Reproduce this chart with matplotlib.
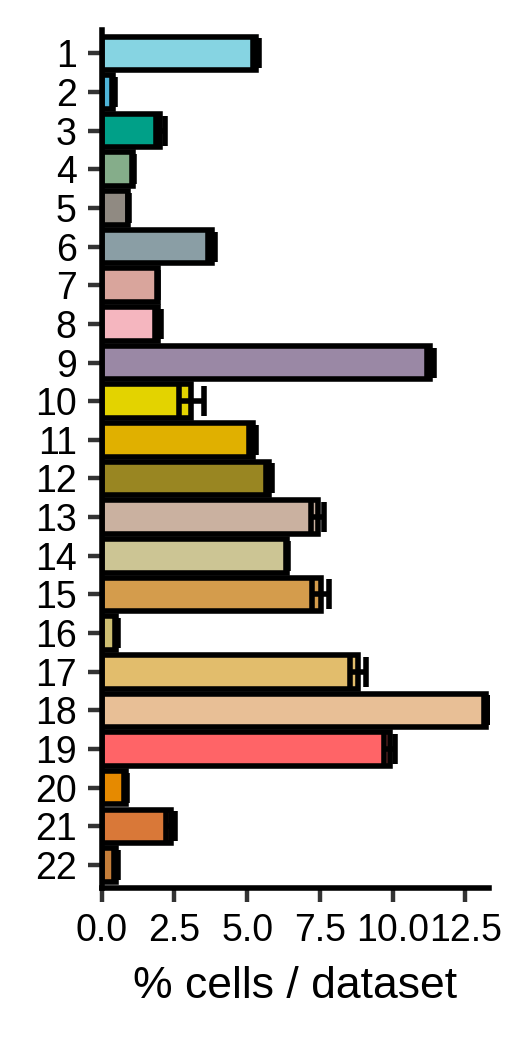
import matplotlib.pyplot as plt
import numpy as np

plt.rcParams['font.family'] = ['Liberation Sans', 'DejaVu Sans']

clusters = [str(i) for i in range(1, 23)]
pct = [5.30, 0.39, 2.01, 1.08, 0.92, 3.78, 1.92, 1.93, 11.30, 3.08, 5.20,
       5.76, 7.43, 6.36, 7.53, 0.50, 8.82, 13.22, 9.90, 0.83, 2.37, 0.50]
err = [0.10, 0.05, 0.15, 0.03, 0.03, 0.12, 0.03, 0.10, 0.12, 0.43, 0.12,
       0.10, 0.23, 0.03, 0.29, 0.05, 0.27, 0.06, 0.18, 0.05, 0.15, 0.07]
colors = ['#86D4E2', '#4FB4D8', '#00A088', '#85AD8A', '#908A82', '#8A9EA5',
          '#D9A59C', '#F5B6BF', '#9A88A5', '#E3D300', '#E0B000', '#998622',
          '#CAB1A0', '#CCC594', '#D49C4C', '#CDBE72', '#E2BD6C', '#E8BF96',
          '#FF6467', '#E68A00', '#D97838', '#C57E3A']

fig = plt.figure(figsize=(2.6, 5.2), dpi=200)
ax = fig.add_axes([0.1956, 0.146, 0.7444, 0.825])

y = np.arange(len(clusters))
ax.barh(y, pct, height=0.87, color=colors, edgecolor='black', linewidth=2.0, zorder=2)
ax.errorbar(pct, y, xerr=err, fmt='none', ecolor='black', elinewidth=2.0,
            capsize=5.4, capthick=2.0, zorder=3)

ax.set_ylim(21.6, -0.6)
ax.set_xlim(0, 13.31)
ax.set_yticks(y)
ax.set_yticklabels(clusters)
ax.set_xticks([0, 2.5, 5, 7.5, 10, 12.5])
ax.set_xticklabels(['0.0', '2.5', '5.0', '7.5', '10.0', '12.5'])
ax.set_xlabel('% cells / dataset', fontsize=16, labelpad=6)

for s in ['top', 'right']:
    ax.spines[s].set_visible(False)
for s in ['left', 'bottom']:
    ax.spines[s].set_linewidth(2.0)
    ax.spines[s].set_color('black')

ax.tick_params(axis='both', labelsize=13.5, length=5, width=1.6,
               color='#333333', pad=4)

fig.savefig('out.png', dpi=200)
